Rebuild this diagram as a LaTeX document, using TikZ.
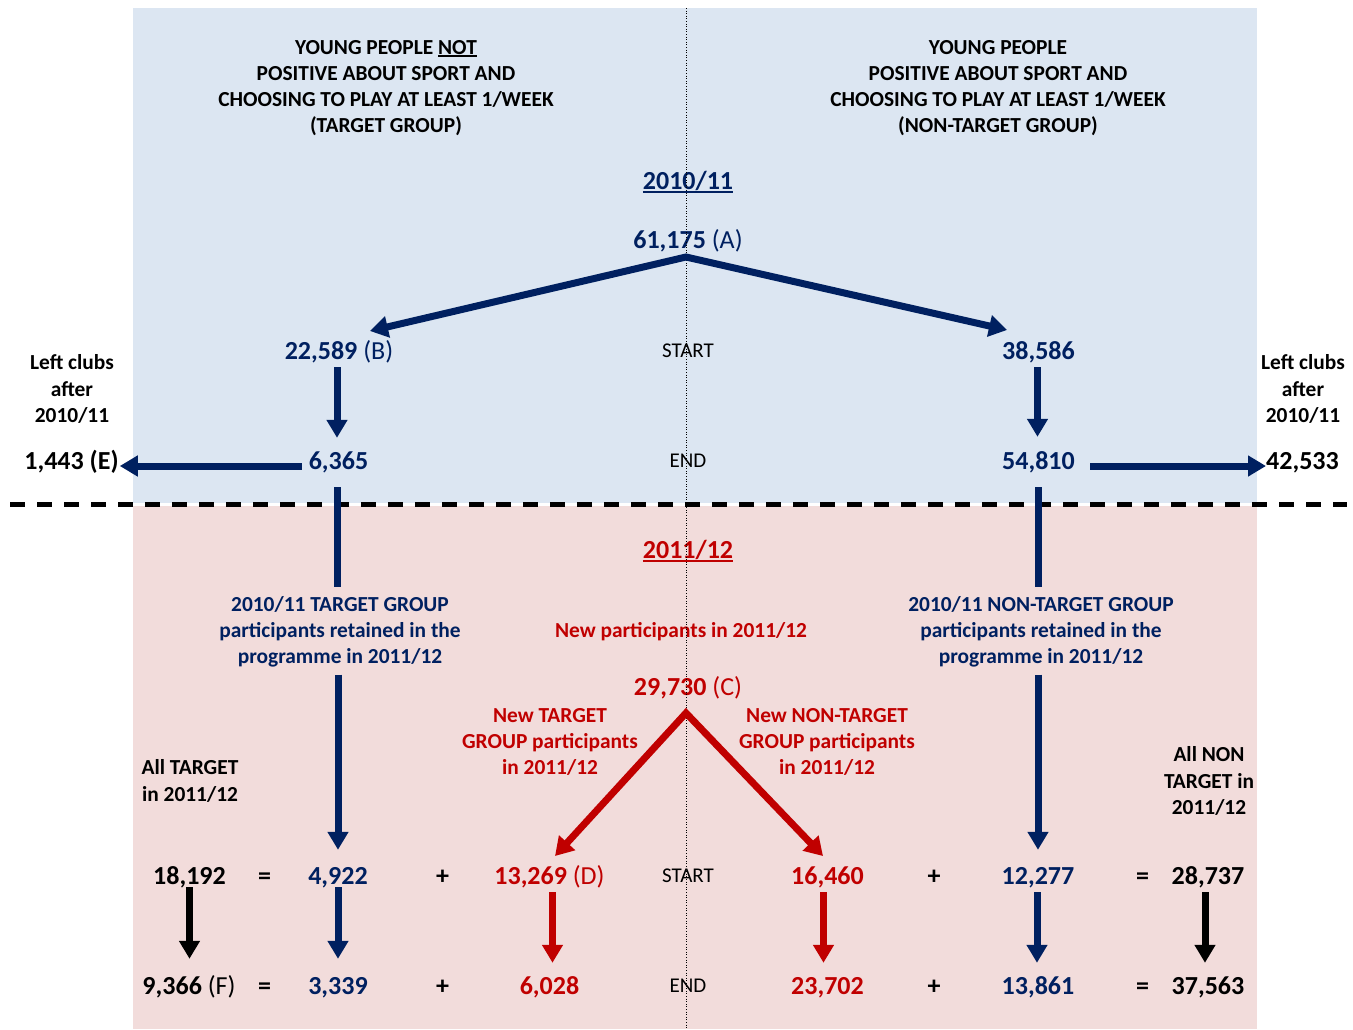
\documentclass[tikz,border=0pt]{standalone}
\usepackage{fontspec}
\setmainfont{Carlito}
\usetikzlibrary{arrows.meta}
\definecolor{navy}{RGB}{0,32,96}
\definecolor{dred}{RGB}{192,0,0}
\definecolor{bgblue}{RGB}{220,230,242}
\definecolor{bgpink}{RGB}{242,220,219}
\newcommand{\myul}[3]{\setbox0=\hbox{#3}\rlap{\rule[#1]{\wd0}{#2}}\box0}
\tikzset{
 num/.style={inner sep=0pt, font=\fontsize{26}{31}\selectfont\bfseries, text height=18pt, text depth=2pt},
 lab/.style={inner sep=0pt, font=\fontsize{21.4}{26.2}\selectfont\bfseries, align=center},
 se/.style={inner sep=0pt, font=\fontsize{21}{25}\selectfont, text height=13.5pt, text depth=0pt},
 arr/.style={line width=7pt, -{Triangle[width=20pt,length=18pt]}},
 barr/.style={line width=7pt, line join=miter, {Triangle[width=21pt,length=18pt]}-{Triangle[width=21pt,length=18pt]}},
 ln/.style={line width=7pt},
}
\begin{document}
\begin{tikzpicture}[x=1pt,y=-1pt]
\useasboundingbox (0,0) rectangle (1353,1029);
\fill[bgblue] (133,8) rectangle (1257,503);
\fill[bgpink] (133,506) rectangle (1257,1029);
\draw[line width=4.5pt, dash pattern=on 15pt off 12pt] (10,504.5) -- (1347,504.5);

% ---- 2010/11 ----
\node[lab] (hdrL) at (386,88) {YOUNG PEOPLE \myul{-3pt}{2pt}{NOT}\\POSITIVE ABOUT SPORT AND\\CHOOSING TO PLAY AT LEAST 1/WEEK\\(TARGET GROUP)};
\node[lab] (hdrR) at (998,88) {YOUNG PEOPLE\\POSITIVE ABOUT SPORT AND\\CHOOSING TO PLAY AT LEAST 1/WEEK\\(NON-TARGET GROUP)};
\node[num,text=navy] (y1) at (688,181) {\myul{-4pt}{2.5pt}{2010/11}};
\node[num,text=navy] (A) at (688,240) {61,175 \mdseries(A)};
\node[num,text=navy] (B) at (339,351) {22,589 \mdseries(B)};
\node[se] (st1) at (688,351) {START};
\node[num,text=navy] (n38586) at (1038.5,351) {38,586};
\node[num,text=navy] (n6365) at (338.5,461) {6,365};
\node[se] (en1) at (688,461) {END};
\node[num,text=navy] (n54810) at (1038.5,461) {54,810};
\node[num] (E) at (71.5,461) {1,443 (E)};
\node[num] (n42533) at (1302.5,461) {42,533};
\node[lab] (lcL) at (72,389) {Left clubs\\after\\2010/11};
\node[lab] (lcR) at (1303,389) {Left clubs\\after\\2010/11};

% ---- 2011/12 ----
\node[num,text=dred] (y2) at (688,550) {\myul{-4pt}{2.5pt}{2011/12}};
\node[lab,text=navy] (tgL) at (340,632) {2010/11 TARGET GROUP\\participants retained in the\\programme in 2011/12};
\node[lab,text=navy] (tgR) at (1041,632) {2010/11 NON-TARGET GROUP\\participants retained in the\\programme in 2011/12};
\node[lab,text=dred] (newp) at (681,632) {New participants in 2011/12};
\node[num,text=dred] (C) at (688,687) {29,730 \mdseries(C)};
\node[lab,text=dred] (newT) at (550,742) {New TARGET\\GROUP participants\\in 2011/12};
\node[lab,text=dred] (newNT) at (827,742) {New NON-TARGET\\GROUP participants\\in 2011/12};
\node[lab] (allT) at (190,781) {All TARGET\\in 2011/12};
\node[lab] (allNT) at (1209,781) {All NON\\TARGET in\\2011/12};

% row 1
\node[num] (r1a) at (189.5,876) {18,192};
\node[num] (eqa) at (264.5,876) {=};
\node[num,text=navy] (r1b) at (338,876) {4,922};
\node[num] (pla) at (442.5,876) {+};
\node[num,text=dred] (r1c) at (549.5,876) {13,269 \mdseries(D)};
\node[se] (st2) at (688,876) {START};
\node[num,text=dred] (r1d) at (827.5,876) {16,460};
\node[num] (plb) at (934,876) {+};
\node[num,text=navy] (r1e) at (1038,876) {12,277};
\node[num] (eqb) at (1142.5,876) {=};
\node[num] (r1f) at (1208,876) {28,737};
% row 2
\node[num] (r2a) at (189,986) {9,366 \mdseries(F)};
\node[num] (eqc) at (264.5,986) {=};
\node[num,text=navy] (r2b) at (338,986) {3,339};
\node[num] (plc) at (442.5,986) {+};
\node[num,text=dred] (r2c) at (549.5,986) {6,028};
\node[se] (en2) at (688,986) {END};
\node[num,text=dred] (r2d) at (827.5,986) {23,702};
\node[num] (pld) at (934,986) {+};
\node[num,text=navy] (r2e) at (1038,986) {13,861};
\node[num] (eqd) at (1142.5,986) {=};
\node[num] (r2f) at (1208,986) {37,563};

% centre divider
\draw[line width=0.9pt, dash pattern=on 1pt off 1.6pt] (686,8) -- (686,1029);

% arrows 2010/11
\coordinate (apA) at (686,257);
\coordinate (tB) at (370,331);
\coordinate (t38) at (1007,330);
\draw[barr,navy] (tB) -- (apA) -- (t38);
\draw[arr,navy,shorten <=6pt,shorten >=13pt] ([xshift=-2pt]B.south) -- ([xshift=-2pt]B.south |- n6365.north);
\draw[arr,navy,shorten <=6pt,shorten >=14pt] ([xshift=-1pt]n38586.south) -- ([xshift=-1pt]n54810.north);
\draw[arr,navy,shorten <=7pt,shorten >=1pt] ([yshift=-5pt]n6365.west) -- ([yshift=-5pt]E.east);
\draw[arr,navy,shorten <=15pt] ([yshift=-5pt]n54810.east) -- ([yshift=-5pt]n42533.west);

% retained lines
\draw[ln,navy,shorten <=16pt,shorten >=9pt] ([xshift=-1pt]n6365.south) -- ([xshift=-1pt]n6365.south |- tgL.north);
\draw[arr,navy,shorten <=7pt,shorten >=16pt] (r1b.north |- tgL.south) -- (r1b.north);
\draw[ln,navy,shorten <=16pt,shorten >=9pt] (n54810.south) -- (n54810.south |- tgR.north);
\draw[arr,navy,shorten <=7pt,shorten >=16pt] (r1e.north |- tgR.south) -- (r1e.north);

% new participants split
\coordinate (apC) at (686,713);
\coordinate (tD) at (555,856);
\coordinate (t16) at (823,856);
\draw[barr,dred] (tD) -- (apC) -- (t16);

% start -> end
\draw[arr,black,shorten <=1pt,shorten >=17pt] (r1a.south) -- (r1a.south |- r2a.north);
\draw[arr,navy,shorten <=1pt,shorten >=17pt] (r1b.south) -- (r2b.north);
\draw[arr,dred,shorten <=6pt,shorten >=13pt] ([xshift=3pt]r1c.south) -- ([xshift=3pt]r1c.south |- r2c.north);
\draw[arr,dred,shorten <=6pt,shorten >=13pt] ([xshift=-4pt]r1d.south) -- ([xshift=-4pt]r2d.north);
\draw[arr,navy,shorten <=6pt,shorten >=13pt] ([xshift=-1pt]r1e.south) -- ([xshift=-1pt]r2e.north);
\draw[arr,black,shorten <=6pt,shorten >=13pt] ([xshift=-3pt]r1f.south) -- ([xshift=-3pt]r2f.north);
\end{tikzpicture}
\end{document}
